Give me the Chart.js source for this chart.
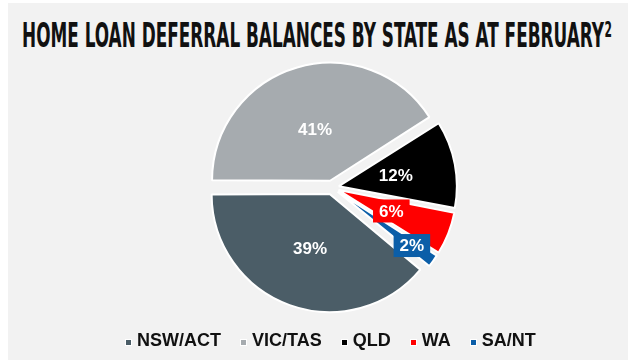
<!DOCTYPE html>
<html>
<head>
<meta charset="utf-8">
<script src="https://cdn.jsdelivr.net/npm/chart.js@4.4.1/dist/chart.umd.min.js"></script>
<style>
  html, body { margin: 0; padding: 0; background: #ffffff; }
  #wrap { position: relative; width: 635px; height: 360px; overflow: hidden; }
  #panel { position: absolute; left: 8px; top: 3px; width: 620px; height: 357px; background: #f2f2f2; }
  #title {
    position: absolute; left: 22px; top: 19px;
    font: bold 33px/33px "DejaVu Sans Condensed", "Liberation Sans Narrow", sans-serif;
    color: #111; white-space: nowrap; transform-origin: 0 0;
  }
  #title sup { font-size: 21px; line-height: 21px; vertical-align: top; position: relative; top: 1px; margin-left: 1px; }
  #chart { position: absolute; left: 0; top: 0; }
  #legend {
    position: absolute; left: 125px; top: 331px; display: flex;
    font: bold 18px/18px "Liberation Sans", Arial, sans-serif; color: #111; white-space: nowrap;
  }
  .item { display: flex; align-items: center; margin-right: 19px; }
  .swatch { width: 5px; height: 5px; border: 1px solid #fff; margin-right: 5px; position: relative; top: 2px; }
</style>
</head>
<body>
<div id="wrap">
  <div id="panel"></div>
  <div id="title">HOME LOAN DEFERRAL BALANCES BY STATE AS AT FEBRUARY<sup>2</sup></div>
  <canvas id="chart" width="635" height="360"></canvas>
  <div id="legend"></div>
</div>
<script>
// Deferral balances by state, % of total
const states = ['NSW/ACT', 'VIC/TAS', 'QLD', 'WA', 'SA/NT'];
const shares = [39, 41, 12, 6, 2];
const sliceColors = ['#4b5d67', '#a6abaf', '#000000', '#ff0000', '#0b5ea8'];
const shareLabels = shares.map(v => v + '%');

// every slice is pulled out the same distance; chart.js moves an arc by offset / 4
const EXPLODE = 28;

// title squeezed to the panel width
const title = document.getElementById('title');
const titleScale = 590 / title.getBoundingClientRect().width;
title.style.transform = 'scaleX(' + titleScale + ')';

// legend
const legend = document.getElementById('legend');
states.forEach((name, i) => {
  const item = document.createElement('div');
  item.className = 'item';
  const sw = document.createElement('span');
  sw.className = 'swatch';
  sw.style.background = sliceColors[i];
  item.appendChild(sw);
  item.appendChild(document.createTextNode(name));
  legend.appendChild(item);
});

// chart.js also grows pulled-out arcs a little; take that back so all share one radius
const evenRadius = {
  id: 'evenRadius',
  afterDatasetsUpdate(chart) {
    chart.getDatasetMeta(0).data.forEach(arc => {
      const fix = 1 - Math.sin(Math.min(Math.PI, arc.circumference));
      arc.outerRadius -= fix * EXPLODE / 4;
    });
  }
};

// percentage labels inside the slices, small ones on a coloured tag
const sliceLabels = {
  id: 'sliceLabels',
  afterDatasetsDraw(chart, args, opts) {
    const ctx = chart.ctx;
    const arcs = chart.getDatasetMeta(0).data;
    ctx.save();
    ctx.font = opts.font;
    ctx.textAlign = 'center';
    ctx.textBaseline = 'middle';
    arcs.forEach((arc, i) => {
      const mid = (arc.startAngle + arc.endAngle) / 2;
      const r = EXPLODE / 4 + arc.outerRadius * opts.radial[i];
      const x = arc.x + Math.cos(mid) * r;
      const y = arc.y + Math.sin(mid) * r;
      const text = shareLabels[i];
      if (opts.tagged[i]) {
        const w = ctx.measureText(text).width + 12;
        ctx.fillStyle = sliceColors[i];
        ctx.fillRect(x - w / 2, y - 11.5, w, 23);
      }
      ctx.fillStyle = '#ffffff';
      ctx.fillText(text, x, y + 1);
    });
    ctx.restore();
  }
};

// NSW/ACT ends at nine o'clock, VIC/TAS starts there
const total = shares.reduce((a, b) => a + b, 0);
const startAngle = 270 - shares[0] / total * 360;

new Chart(document.getElementById('chart'), {
  type: 'pie',
  data: {
    labels: states,
    datasets: [{
      data: shares,
      backgroundColor: sliceColors,
      borderColor: '#ffffff',
      borderWidth: 2,
      offset: EXPLODE
    }]
  },
  options: {
    responsive: false,
    animation: false,
    events: [],
    rotation: startAngle,
    radius: 118,
    layout: { padding: { left: 29, right: 0, top: 15, bottom: 0 } },
    plugins: {
      legend: { display: false },
      tooltip: { enabled: false },
      sliceLabels: {
        font: 'bold 17px "Liberation Sans", Arial, sans-serif',
        radial: [0.5, 0.47, 0.5, 0.5, 0.82],
        tagged: [false, false, false, true, true]
      }
    }
  },
  plugins: [evenRadius, sliceLabels]
});
</script>
</body>
</html>
